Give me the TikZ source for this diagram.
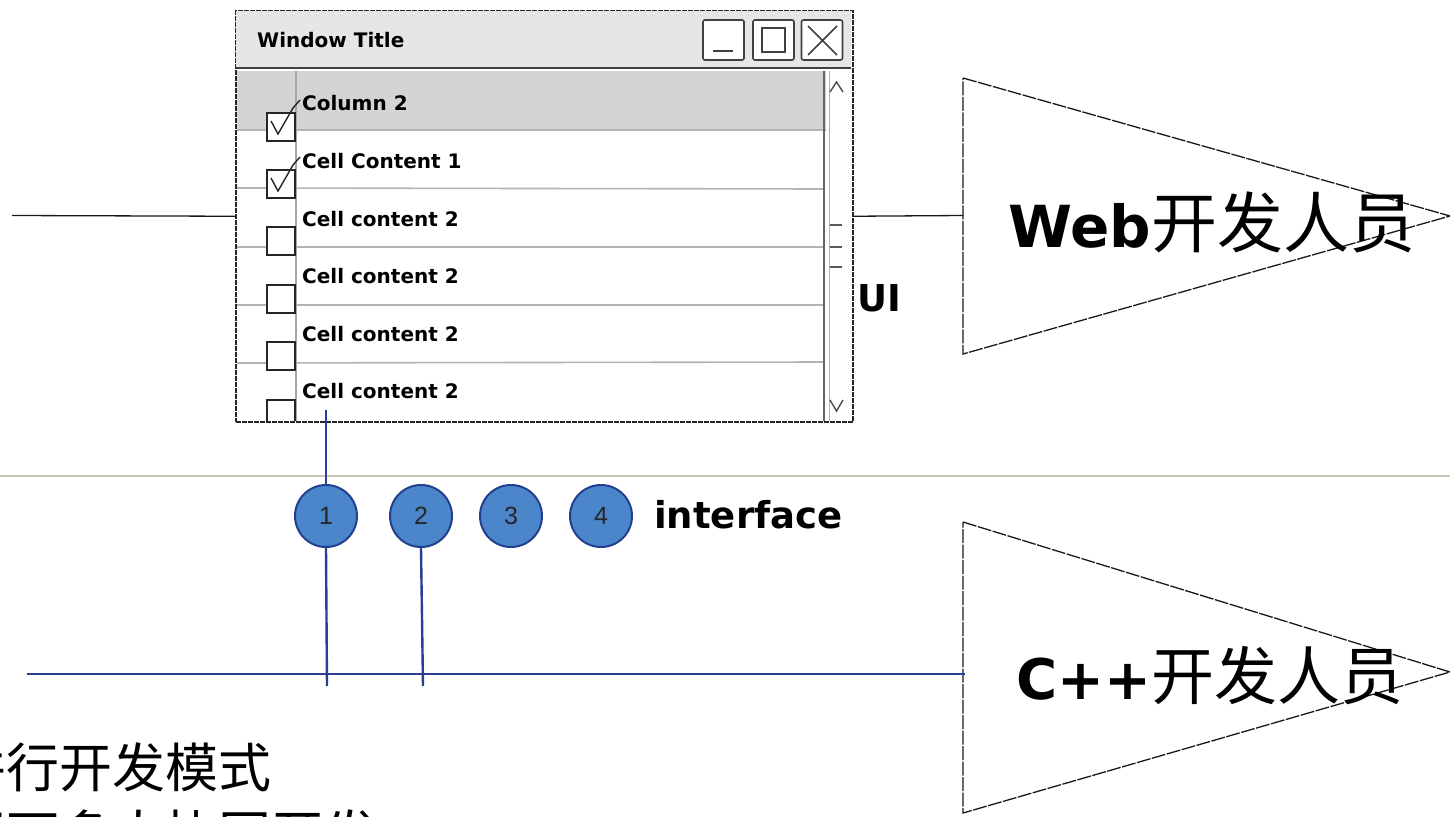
\documentclass[tikz,border=0pt]{standalone}
\usepackage{fontspec}
\setmainfont{Liberation Sans}
\newfontfamily\cjk{Noto Sans CJK SC}
\newfontfamily\sketch{DejaVu Sans}
\definecolor{barfill}{HTML}{E6E6E6}
\definecolor{headfill}{HTML}{D4D4D4}
\definecolor{rowgray}{HTML}{B4B4B4}
\definecolor{sepcol}{HTML}{C9C4B5}
\definecolor{bubble}{HTML}{4A86C9}
\definecolor{bubbleedge}{HTML}{22408F}
\definecolor{blueline}{HTML}{2B3D96}
\tikzset{
  winbox/.style={draw=black!85, line width=1.5pt, dash pattern=on 5pt off 1pt, fill=white, rectangle, inner sep=0pt},
  winbtn/.style={draw=black!75, line width=1.6pt, fill=white, rectangle, rounded corners=2pt, minimum width=41pt, minimum height=40pt, inner sep=0pt},
  chkbox/.style={draw=black!85, line width=1.8pt, fill=white, rectangle, minimum size=28pt, inner sep=0pt},
  rowline/.style={draw=rowgray, line width=1.6pt},
  celltext/.style={anchor=west, inner sep=0pt, font=\sketch\bfseries\fontsize{20}{24}\selectfont},
  tri/.style={draw=black!90, line width=1.3pt, dash pattern=on 14pt off 1.5pt, fill=white},
  bubblenode/.style={circle, fill=bubble, draw=bubbleedge, line width=2pt, minimum size=62pt, inner sep=0pt, font=\fontsize{25}{28}\selectfont, text=black!85},
  blueln/.style={draw=blueline, line width=2.4pt},
  thinln/.style={draw=black!90, line width=1.3pt},
}
\begin{document}
\begin{tikzpicture}[x=1pt,y=-1pt]
\useasboundingbox (0,0) rectangle (1450,816);
\fill[white] (0,0) rectangle (1450,816);

% separator
\coordinate (sepL) at (0,476);
\coordinate (sepR) at (1450,476);
\draw[sepcol, line width=1.3pt] (sepL) -- (sepR);

% window
\node[winbox, minimum width=617pt, minimum height=411pt, anchor=north west] (win) at (235,10) {};
\begin{scope}
\clip (236,11) rectangle (851,420);
\fill[barfill] (236,11) rectangle (851,68);
\draw[black!75, line width=2pt] (236,68) -- (851,68);
\fill[headfill] (237,71) rectangle (826,130);
\draw[rowgray, line width=1.4pt] (237,130) -- (826,130);
\draw[rowline] (237,188) -- (824,189);
\draw[rowline] (237,247) -- (824,247);
\draw[rowline] (237,305) -- (824,305);
\draw[rowline] (237,363) -- (824,362);
\draw[black!35, line width=1.4pt] (296,71) -- (296,421);
\draw[black!60, line width=2pt] (824,71) -- (824,421);
\draw[black!30, line width=1pt] (829,71) -- (829,421);
\draw[black!70, line width=1.4pt] (830,92) -- (836.5,82) -- (843,92);
\draw[black!70, line width=1.4pt] (830,400) -- (836.5,411) -- (843,400);
\draw[black!65, line width=2pt] (830,225) -- (842,225);
\draw[black!65, line width=2pt] (830,247) -- (842,247);
\draw[black!65, line width=2pt] (830,267) -- (842,267);
\node[chkbox] (cb1) at (281,127) {};
\node[chkbox] (cb2) at (281,184) {};
\node[chkbox] (cb3) at (281,241) {};
\node[chkbox] (cb4) at (281,299) {};
\node[chkbox] (cb5) at (281,356) {};
\node[chkbox] (cb6) at (281,414) {};
\draw[black!85, line width=1.4pt] (271,121) -- (278,134) -- (293,108) -- (300,100);
\draw[black!85, line width=1.4pt] (271,178) -- (278,191) -- (293,165) -- (300,157);
\end{scope}

% title bar content
\node[anchor=west, inner sep=0pt, font=\sketch\bfseries\fontsize{20}{24}\selectfont] (title) at (257,40) {Window Title};
\node[winbtn] (bmin) at (723.5,40) {};
\node[winbtn] (bmax) at (773.5,40) {};
\node[winbtn] (bclose) at (822,40) {};
\draw[black!75, line width=1.6pt] (713,51) -- (733,51);
\draw[black!75, line width=1.6pt] (762,28) rectangle (785,52);
\draw[black!75, line width=1.6pt] (808,26) -- (837,55) (837,26) -- (808,55);

% rows
\node[celltext] (h0) at (302,103) {Column 2};
\node[celltext] (r1) at (302,161) {Cell Content 1};
\node[celltext] (r2) at (302,219) {Cell content 2};
\node[celltext] (r3) at (302,276) {Cell content 2};
\node[celltext] (r4) at (302,334) {Cell content 2};
\node[celltext] (r5) at (302,391) {Cell content 2};

% UI label
\node[anchor=west, inner sep=0pt, font=\sketch\bfseries\fontsize{37}{42}\selectfont] (ui) at (857,298) {UI};

% Web triangle
\coordinate (webA) at (963,78);
\coordinate (webB) at (963,354);
\coordinate (webC) at (1450,216);
\coordinate (webL) at (963,215.5);
\draw[tri] (webA) -- (webC) -- (webB) -- cycle;
\node[inner sep=0pt] (webtxt) at (1212,222) {{\sketch\bfseries\fontsize{58}{66}\selectfont Web}{\cjk\fontsize{66}{70}\selectfont 开发人员}};

% top connectors
\coordinate (lineL) at (12,215.5);
\draw[thinln] (lineL) -- (win.west);
\draw[thinln] (win.east) -- (webL);

% bubbles
\node[bubblenode] (c1) at (326,516) {1};
\node[bubblenode] (c2) at (421,516) {2};
\node[bubblenode] (c3) at (511,516) {3};
\node[bubblenode] (c4) at (601,516) {4};
\node[anchor=west, inner sep=0pt, font=\sketch\bfseries\fontsize{37}{42}\selectfont] (iface) at (654,515) {interface};

% blue lines
\coordinate (v1top) at (326,410);
\coordinate (v1bot) at (327,686);
\coordinate (v2bot) at (423,686);
\coordinate (hL) at (27,674);
\coordinate (cppL) at (965,674);
\draw[blueln] (v1top) -- (c1.north);
\draw[blueln] (c1.south) -- (v1bot);
\draw[blueln] (c2.south) -- (v2bot);

% C++ triangle
\coordinate (cppA) at (963,522);
\coordinate (cppB) at (963,813);
\coordinate (cppC) at (1450,672);
\draw[tri] (cppA) -- (cppC) -- (cppB) -- cycle;
\draw[blueln] (hL) -- (cppL);
\node[inner sep=0pt] (cpptxt) at (1210,676) {{\sketch\bfseries\fontsize{56}{66}\selectfont C++}{\cjk\fontsize{63}{70}\selectfont 开发人员}};

% bottom-left text
\node[anchor=base west, inner sep=0pt, font=\cjk\fontsize{53}{60}\selectfont] (mode) at (-47,787) {并行开发模式};
\node[anchor=base west, inner sep=0pt, font=\cjk\fontsize{53}{60}\selectfont] (mode2) at (-47,854) {即可多人协同开发};
\end{tikzpicture}
\end{document}
